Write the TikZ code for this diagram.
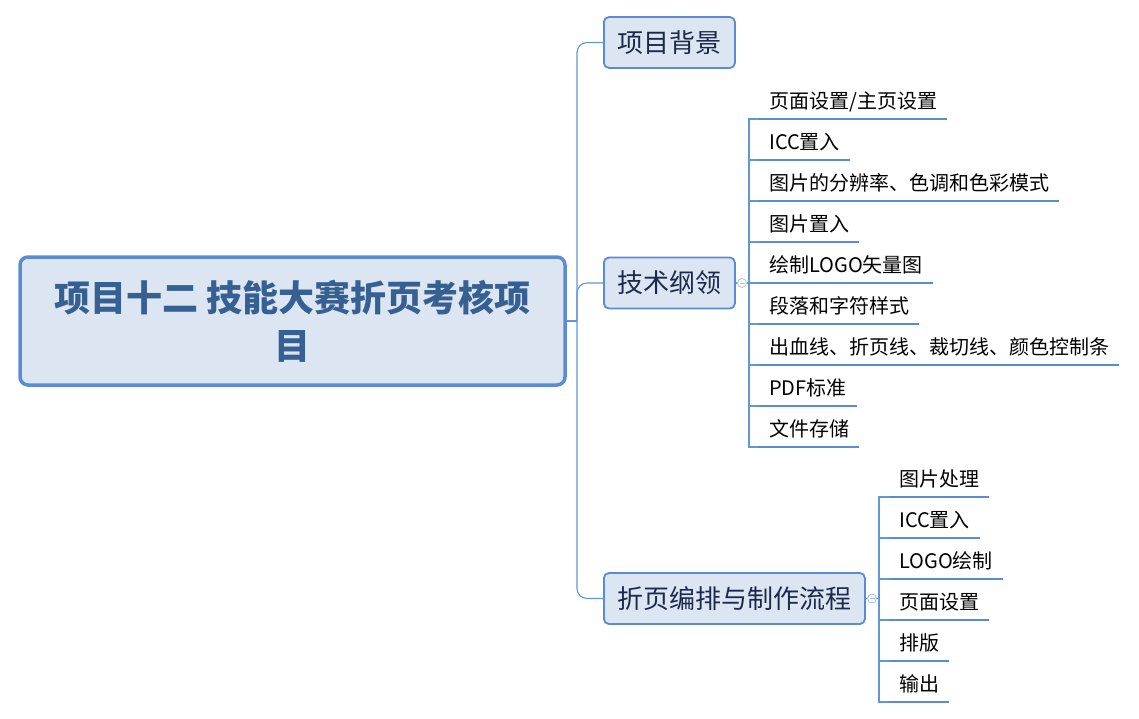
\documentclass[tikz,border=0pt]{standalone}
\usepackage{fontspec}
\setmainfont{Noto Sans CJK SC}
\usetikzlibrary{positioning}
\definecolor{boxfill}{HTML}{DCE6F2}
\definecolor{boxline}{HTML}{5A8BD3}
\definecolor{roottext}{HTML}{366092}
\definecolor{topictext}{HTML}{1B2A4A}
\definecolor{link}{HTML}{6495D6}
\definecolor{knobline}{HTML}{A9C0E6}
\tikzset{
  rootbox/.style={
    draw=boxline, fill=boxfill, line width=3.5pt, rounded corners=8pt,
    minimum width=545pt, minimum height=128pt, align=center,
    text=roottext, font=\fontsize{36}{48}\selectfont\bfseries
  },
  topic/.style={
    draw=boxline, fill=boxfill, line width=1.8pt, rounded corners=5pt,
    inner xsep=13.5pt, minimum height=51pt, anchor=west,
    text=topictext, font=\fontsize{26}{30}\selectfont
  },
  leaf/.style={
    anchor=south west, inner xsep=10pt, inner ysep=6pt,
    text height=16pt, text depth=4pt,
    font=\fontsize{20}{24}\selectfont
  },
  uline/.style={draw=boxline, line width=2.6pt},
  branch/.style={draw=link, line width=1.1pt},
  knob/.style={
    circle, draw=knobline, fill=white, line width=0.8pt,
    minimum size=9pt, inner sep=0pt,
    path picture={\draw[knobline, line width=0.8pt]
      ([xshift=-2.5pt]path picture bounding box.center) --
      ([xshift=2.5pt]path picture bounding box.center);}
  }
}
\begin{document}
\begin{tikzpicture}[x=1pt, y=-1pt]
  \useasboundingbox (0,0) rectangle (1139,719);
  \node[rootbox] (root) at (292.5,321) {项目十二 技能大赛折页考核项\\目};
  \node[topic] (bg) at (603,42.5) {项目背景};
  \node[topic] (tech) at (603,283) {技术纲领};
  \node[topic] (flow) at (603,598.5) {折页编排与制作流程};
  \coordinate (hub) at (577,321);
  \draw[branch] (root.east) -- (hub);
  \draw[branch, rounded corners=10pt] (hub) |- (bg.west);
  \draw[branch, rounded corners=10pt] (hub) |- (tech.west);
  \draw[branch, rounded corners=10pt] (hub) |- (flow.west);

  \node[knob] (k1) at (742,283) {};
  \coordinate (tk) at (749,283);
  \draw[branch] (tech.east) -- (k1);
  \draw[branch] (k1) -- (tk);
  \foreach \txt [count=\i] in {{页面设置/主页设置}, {ICC置入}, {图片的分辨率、色调和色彩模式},
      {图片置入}, {绘制LOGO矢量图}, {段落和字符样式}, {出血线、折页线、裁切线、颜色控制条},
      {PDF标准}, {文件存储}} {
    \node[leaf] (t\i) at (759,{119+41*(\i-1)}) {\txt};
    \draw[branch] (tk) |- (t\i.south west);
    \draw[uline] (t\i.south west) -- (t\i.south east);
  }

  \node[knob] (k2) at (872,598.5) {};
  \coordinate (fk) at (879,598.5);
  \draw[branch] (flow.east) -- (k2);
  \draw[branch] (k2) -- (fk);
  \foreach \txt [count=\i] in {图片处理, ICC置入, LOGO绘制, 页面设置, 排版, 输出} {
    \node[leaf] (f\i) at (889,{497+41*(\i-1)}) {\txt};
    \draw[branch] (fk) |- (f\i.south west);
    \draw[uline] (f\i.south west) -- (f\i.south east);
  }
\end{tikzpicture}
\end{document}
